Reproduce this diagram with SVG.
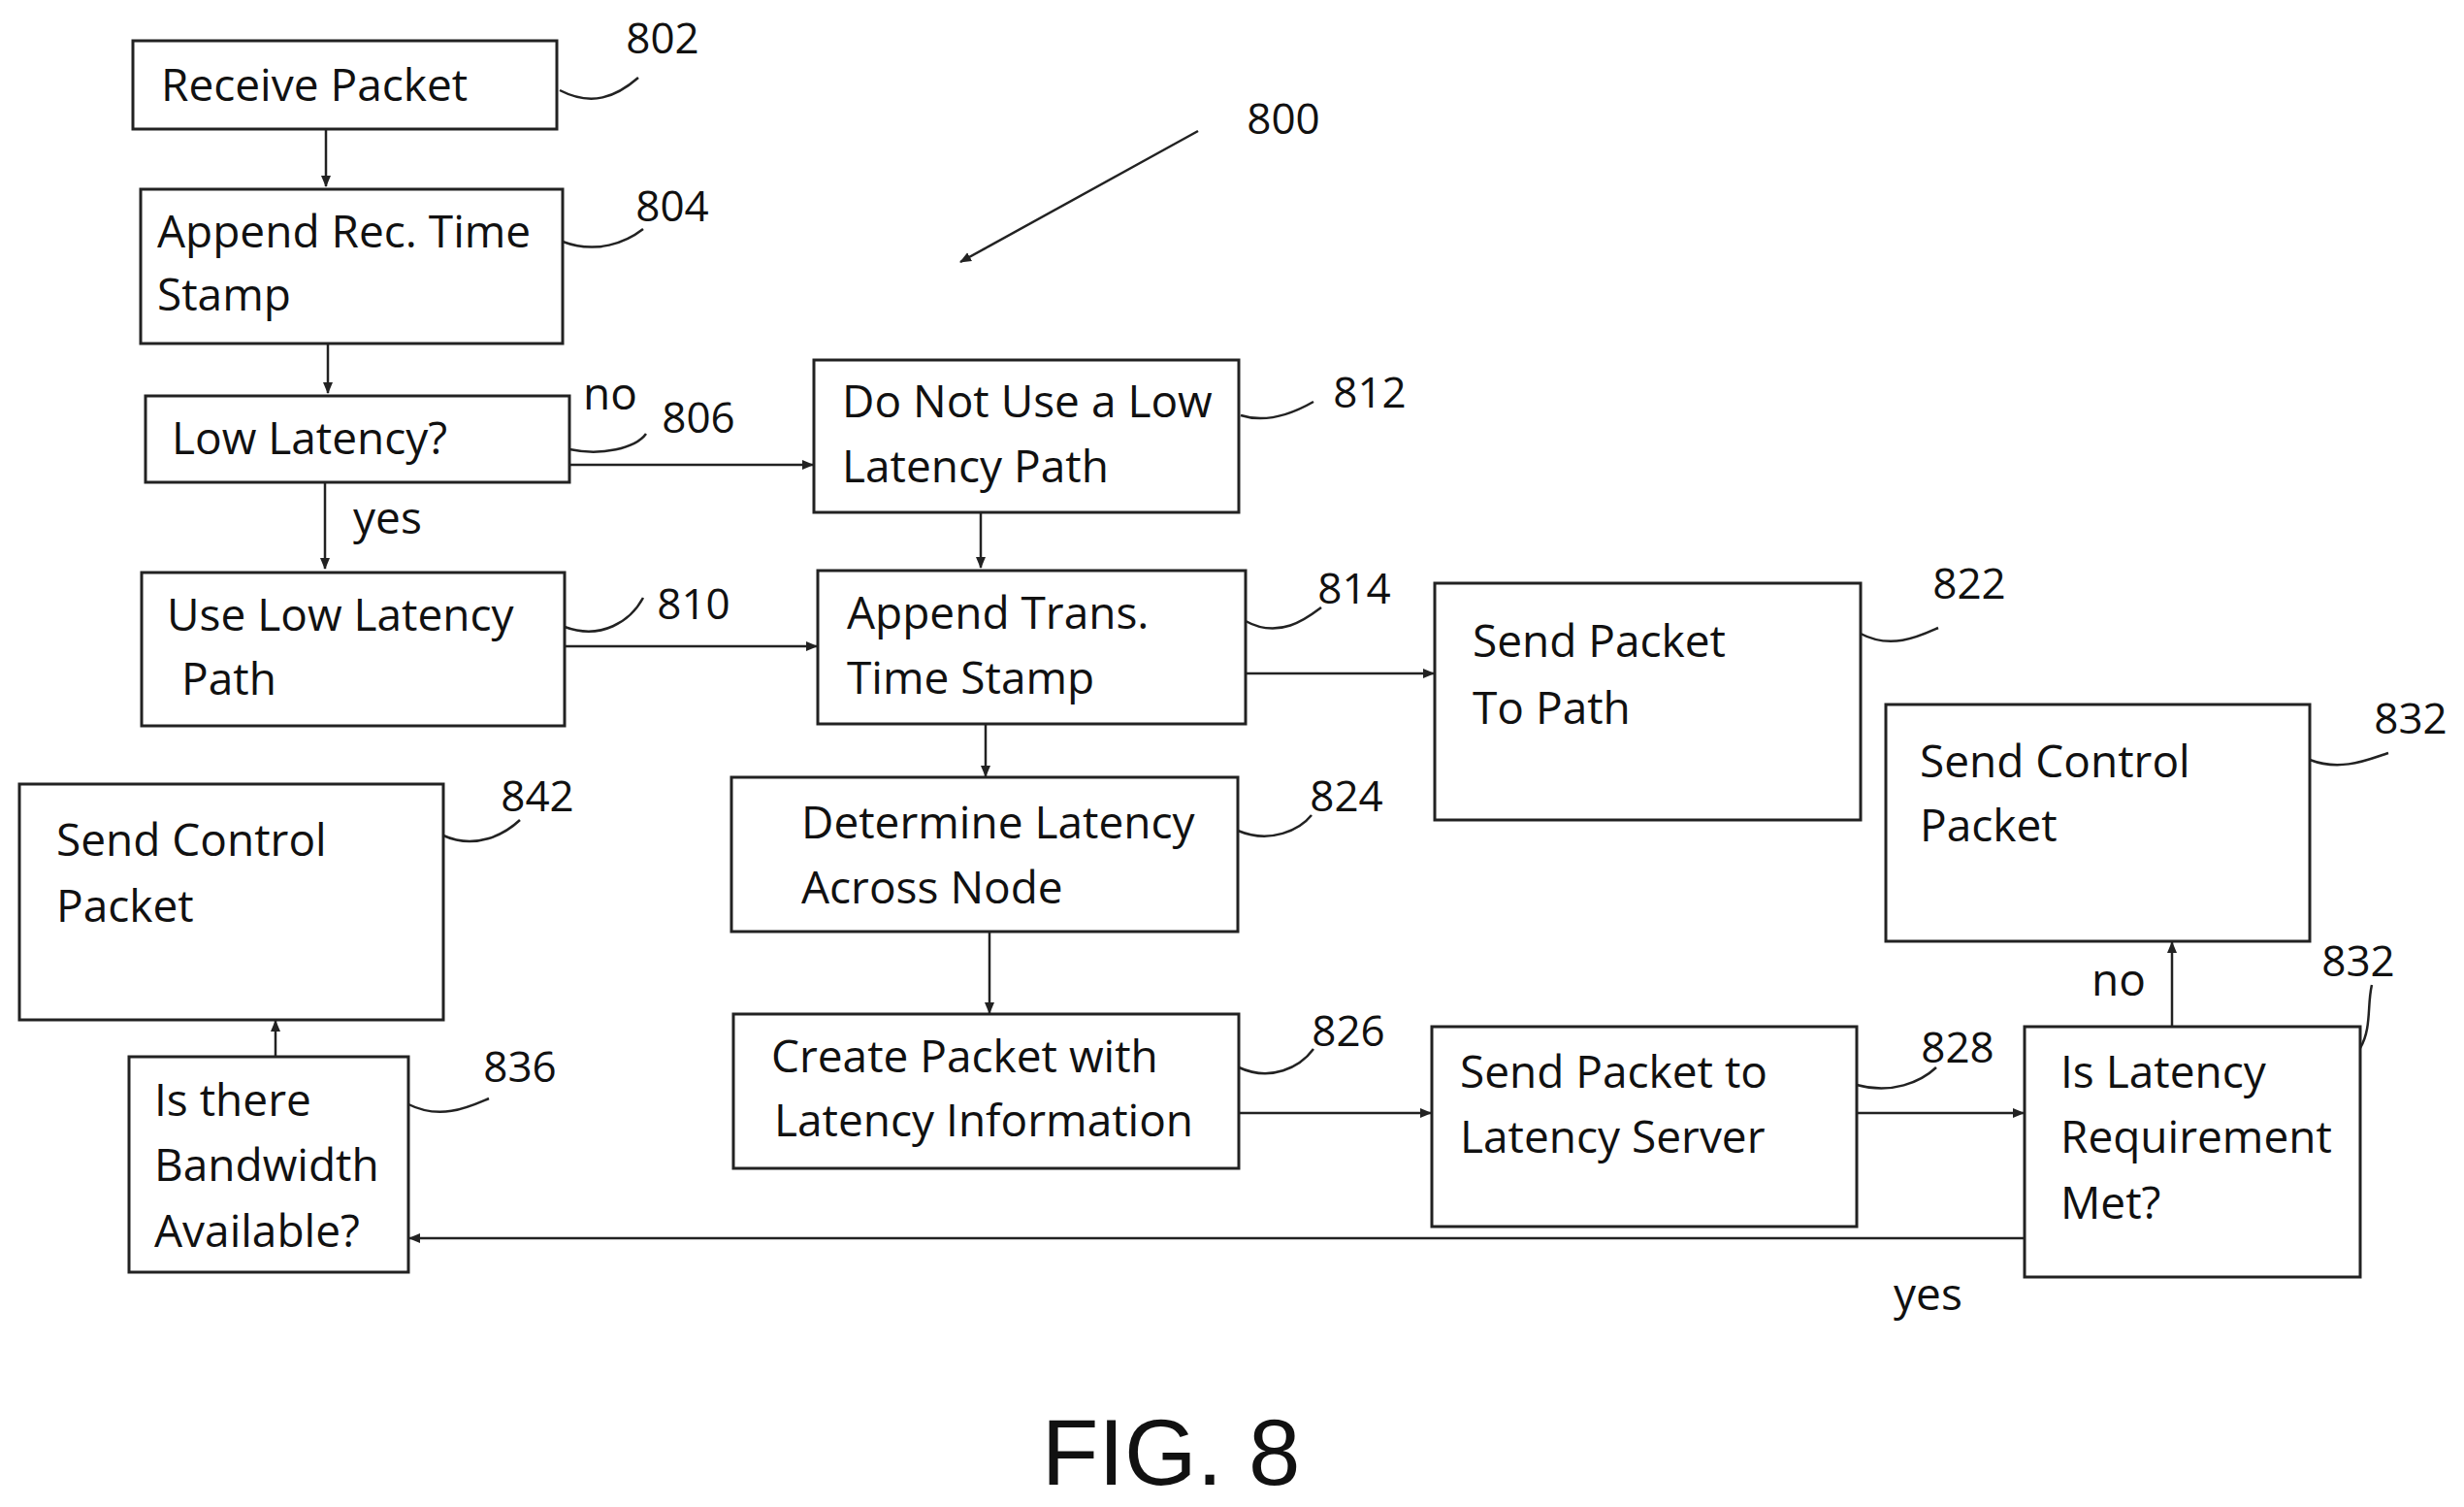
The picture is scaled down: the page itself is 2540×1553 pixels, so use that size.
<svg xmlns="http://www.w3.org/2000/svg" width="2540" height="1553" viewBox="0 0 2540 1553">
<style>
.b{fill:#fff;stroke:#222;stroke-width:3}
.t{font-family:"Open Sans","Liberation Sans",sans-serif;font-size:46px;fill:#111}
.n{font-family:"Open Sans","Liberation Sans",sans-serif;font-size:44px;fill:#111;text-anchor:middle}
.l{fill:none;stroke:#222;stroke-width:2.5}
.c{fill:none;stroke:#222;stroke-width:2.5;marker-end:url(#a)}
</style>
<defs><marker id="a" markerWidth="12" markerHeight="12" refX="11" refY="6" orient="auto" markerUnits="userSpaceOnUse"><path d="M0,1 L12,6 L0,11 Z" fill="#222"/></marker></defs>
<rect width="2540" height="1553" fill="#fff"/>
<g id="n802"><rect class="b" x="137" y="42" width="437" height="91"/><text class="t" x="166" y="104">Receive Packet</text></g>
<g id="n804"><rect class="b" x="145" y="195" width="435" height="159"/><text class="t" x="162" y="255">Append Rec. Time</text><text class="t" x="162" y="320">Stamp</text></g>
<g id="n806"><rect class="b" x="150" y="408" width="437" height="89"/><text class="t" x="177" y="468">Low Latency?</text></g>
<g id="n812"><rect class="b" x="839" y="371" width="438" height="157"/><text class="t" x="868" y="430">Do Not Use a Low</text><text class="t" x="868" y="497">Latency Path</text></g>
<g id="n810"><rect class="b" x="146" y="590" width="436" height="158"/><text class="t" x="172" y="650">Use Low Latency</text><text class="t" x="187" y="716">Path</text></g>
<g id="n814"><rect class="b" x="843" y="588" width="441" height="158"/><text class="t" x="873" y="648">Append Trans.</text><text class="t" x="873" y="715">Time Stamp</text></g>
<g id="n822"><rect class="b" x="1479" y="601" width="439" height="244"/><text class="t" x="1518" y="677">Send Packet</text><text class="t" x="1518" y="746">To Path</text></g>
<g id="n832a"><rect class="b" x="1944" y="726" width="437" height="244"/><text class="t" x="1979" y="801">Send Control</text><text class="t" x="1979" y="867">Packet</text></g>
<g id="n842"><rect class="b" x="20" y="808" width="437" height="243"/><text class="t" x="58" y="882">Send Control</text><text class="t" x="58" y="950">Packet</text></g>
<g id="n824"><rect class="b" x="754" y="801" width="522" height="159"/><text class="t" x="826" y="864">Determine Latency</text><text class="t" x="826" y="931">Across Node</text></g>
<g id="n826"><rect class="b" x="756" y="1045" width="521" height="159"/><text class="t" x="795" y="1105">Create Packet with</text><text class="t" x="798" y="1171">Latency Information</text></g>
<g id="n828"><rect class="b" x="1476" y="1058" width="438" height="206"/><text class="t" x="1505" y="1121">Send Packet to</text><text class="t" x="1505" y="1188">Latency Server</text></g>
<g id="n832b"><rect class="b" x="2087" y="1058" width="346" height="258"/><text class="t" x="2124" y="1121">Is Latency</text><text class="t" x="2124" y="1188">Requirement</text><text class="t" x="2124" y="1256">Met?</text></g>
<g id="n836"><rect class="b" x="133" y="1089" width="288" height="222"/><text class="t" x="159" y="1150">Is there</text><text class="t" x="159" y="1217">Bandwidth</text><text class="t" x="159" y="1285">Available?</text></g>
<g id="connectors">
<path class="c" d="M336,133 V192"/>
<path class="c" d="M338,354 V405"/>
<path class="c" d="M335,497 V586"/>
<path class="c" d="M587,479 H838"/>
<path class="c" d="M1011,528 V585"/>
<path class="c" d="M582,666 H842"/>
<path class="c" d="M1284,694 H1478"/>
<path class="c" d="M1016,746 V800"/>
<path class="c" d="M1020,960 V1044"/>
<path class="c" d="M1277,1147 H1475"/>
<path class="c" d="M1914,1147 H2086"/>
<path class="c" d="M2239,1058 V971"/>
<path class="c" d="M2087,1276 H422"/>
<path class="c" d="M284,1089 V1052"/>
<path class="c" d="M1235,135 L990,270"/>
</g>
<g id="labels">
<text class="t" x="601" y="422">no</text>
<text class="t" x="364" y="550">yes</text>
<text class="t" x="2156" y="1026">no</text>
<text class="t" x="1952" y="1350">yes</text>
<text class="n" x="1323" y="138">800</text>
<text class="n" x="683" y="55">802</text>
<text class="n" x="693" y="228">804</text>
<text class="n" x="720" y="446">806</text>
<text class="n" x="1412" y="420">812</text>
<text class="n" x="715" y="638">810</text>
<text class="n" x="1396" y="622">814</text>
<text class="n" x="2030" y="617">822</text>
<text class="n" x="2485" y="756">832</text>
<text class="n" x="554" y="836">842</text>
<text class="n" x="1388" y="836">824</text>
<text class="n" x="1390" y="1078">826</text>
<text class="n" x="2018" y="1095">828</text>
<text class="n" x="2431" y="1006">832</text>
<text class="n" x="536" y="1115">836</text>
<path class="l" d="M577,93 C610,110 635,100 658,80"/>
<path class="l" d="M580,249 C615,262 645,250 663,236"/>
<path class="l" d="M587,463 C620,470 655,462 666,447"/>
<path class="l" d="M1279,428 C1310,438 1340,422 1354,414"/>
<path class="l" d="M582,646 C620,660 650,640 663,616"/>
<path class="l" d="M1284,640 C1320,660 1350,635 1362,626"/>
<path class="l" d="M1918,653 C1950,670 1980,655 1998,647"/>
<path class="l" d="M2381,783 C2415,796 2445,781 2462,776"/>
<path class="l" d="M457,861 C490,876 520,860 536,845"/>
<path class="l" d="M1276,856 C1310,870 1340,855 1352,840"/>
<path class="l" d="M1277,1100 C1310,1115 1340,1100 1354,1081"/>
<path class="l" d="M1914,1118 C1950,1128 1980,1115 1996,1100"/>
<path class="l" d="M2433,1080 C2445,1060 2440,1035 2445,1015"/>
<path class="l" d="M421,1138 C455,1155 485,1140 504,1132"/>
<text class="n" x="1207" y="1530" style="font-family:'Liberation Sans',Arial,sans-serif;font-size:96px">FIG. 8</text>
</g>
</svg>
